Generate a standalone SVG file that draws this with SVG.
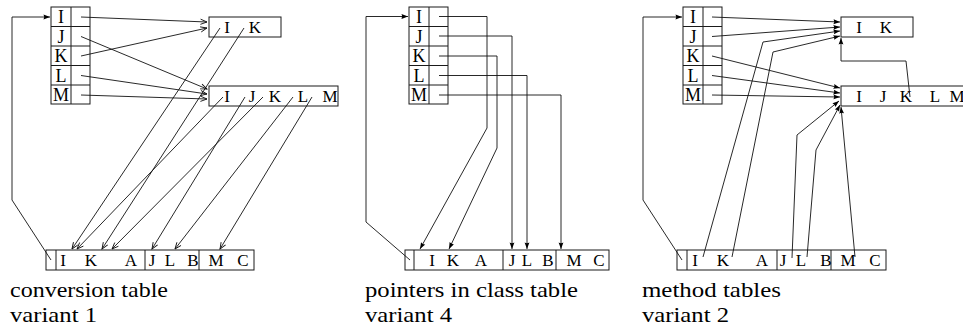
<svg xmlns="http://www.w3.org/2000/svg" width="963" height="329" viewBox="0 0 963 329">
  <style>
    .box { fill: none; stroke: #1a1a1a; stroke-width: 1; }
    .cell { stroke: #1a1a1a; stroke-width: 1; }
    .wire { fill: none; stroke: #111; stroke-width: 0.9; }
    .open { marker-end: url(#chevron); }
    .solid { marker-end: url(#dart); }
    text { font-family: "DejaVu Serif", "Liberation Serif", "Noto Serif", serif; fill: #000; }
    .sel { font-family: "Liberation Serif", "DejaVu Serif", serif; font-size: 18px; text-anchor: middle; }
    .ent { font-family: "Liberation Serif", "DejaVu Serif", serif; font-size: 17px; text-anchor: middle; }
    .cap { font-family: "Liberation Serif", "DejaVu Serif", serif; font-size: 22px; }
  </style>
  <defs>
    <!-- open chevron head (conversion table arrows) -->
    <marker id="chevron" viewBox="-8 -4 10 8" refX="0" refY="0" markerWidth="10" markerHeight="8" markerUnits="userSpaceOnUse" orient="auto">
      <path d="M-6.5,-2.6 L0,0 L-6.5,2.6" fill="none" stroke="#111" stroke-width="0.9"/>
    </marker>
    <!-- filled dart head -->
    <marker id="dart" viewBox="-8 -4 10 8" refX="0" refY="0" markerWidth="10" markerHeight="8" markerUnits="userSpaceOnUse" orient="auto">
      <path d="M-6.5,-2.4 L0,0 L-6.5,2.4 Q-5,0 -6.5,-2.4 Z" fill="#000"/>
    </marker>
    <!-- selector table: 5 rows, name column + pointer column -->
    <g id="selTable">
      <rect class="box" x="0" y="0" width="39" height="97"/>
      <line class="cell" x1="20" y1="0" x2="20" y2="97"/>
      <line class="cell" x1="0" y1="19.5" x2="39" y2="19.5"/>
      <line class="cell" x1="0" y1="39" x2="39" y2="39"/>
      <line class="cell" x1="0" y1="58.5" x2="39" y2="58.5"/>
      <line class="cell" x1="0" y1="78" x2="39" y2="78"/>
      <text class="sel" x="10" y="16" font-family="Liberation Serif, DejaVu Serif, serif">I</text>
      <text class="sel" x="10" y="35.5" font-family="Liberation Serif, DejaVu Serif, serif">J</text>
      <text class="sel" x="10" y="55" font-family="Liberation Serif, DejaVu Serif, serif">K</text>
      <text class="sel" x="10" y="74.5" font-family="Liberation Serif, DejaVu Serif, serif">L</text>
      <text class="sel" x="10" y="94" font-family="Liberation Serif, DejaVu Serif, serif">M</text>
    </g>
  </defs>

  <!-- ===== conversion table, variant 1 ===== -->
  <g id="v1-selectors"><use href="#selTable" x="51" y="7"/></g>
  <g id="v1-ik">
    <rect class="box" x="209" y="17" width="72" height="20"/>
    <text class="ent" x="227" y="33">I</text>
    <text class="ent" x="255" y="33">K</text>
  </g>
  <g id="v1-ijklm">
    <rect class="box" x="209" y="86" width="129" height="20"/>
    <text class="ent" x="227" y="102">I</text>
    <text class="ent" x="252" y="102">J</text>
    <text class="ent" x="275" y="102">K</text>
    <text class="ent" x="303" y="102">L</text>
    <text class="ent" x="330" y="102">M</text>
  </g>
  <g id="v1-methods">
    <rect class="box" x="46" y="250" width="208" height="20"/>
    <line class="cell" x1="56" y1="250" x2="56" y2="270" stroke-width="1.6"/>
    <line class="cell" x1="145" y1="250" x2="145" y2="270"/>
    <line class="cell" x1="199" y1="250" x2="199" y2="270"/>
    <text class="ent" x="63" y="266">I</text>
    <text class="ent" x="91" y="266">K</text>
    <text class="ent" x="131" y="266">A</text>
    <text class="ent" x="152" y="266">J</text>
    <text class="ent" x="170" y="266">L</text>
    <text class="ent" x="193" y="266">B</text>
    <text class="ent" x="216" y="266">M</text>
    <text class="ent" x="243" y="266">C</text>
  </g>
  <g id="v1-caption">
    <text class="cap" x="10" y="297" textLength="158" lengthAdjust="spacingAndGlyphs">conversion table</text>
    <text class="cap" x="10" y="322" textLength="87" lengthAdjust="spacingAndGlyphs">variant 1</text>
  </g>

  <!-- ===== pointers in class table, variant 4 ===== -->
  <g id="v4-selectors"><use href="#selTable" x="409" y="7"/></g>
  <g id="v4-methods">
    <rect class="box" x="405" y="250" width="204" height="20"/>
    <line class="cell" x1="414" y1="250" x2="414" y2="270"/>
    <line class="cell" x1="503" y1="250" x2="503" y2="270"/>
    <line class="cell" x1="556" y1="250" x2="556" y2="270"/>
    <text class="ent" x="432" y="266">I</text>
    <text class="ent" x="453" y="266">K</text>
    <text class="ent" x="481" y="266">A</text>
    <text class="ent" x="512" y="266">J</text>
    <text class="ent" x="527" y="266">L</text>
    <text class="ent" x="548" y="266">B</text>
    <text class="ent" x="574" y="266">M</text>
    <text class="ent" x="599" y="266">C</text>
  </g>
  <g id="v4-caption">
    <text class="cap" x="365" y="297" textLength="213" lengthAdjust="spacingAndGlyphs">pointers in class table</text>
    <text class="cap" x="365" y="322" textLength="87" lengthAdjust="spacingAndGlyphs">variant 4</text>
  </g>

  <!-- ===== method tables, variant 2 ===== -->
  <g id="v2-selectors"><use href="#selTable" x="683" y="7"/></g>
  <g id="v2-ik">
    <rect class="box" x="841" y="17" width="72" height="20"/>
    <text class="ent" x="859" y="33">I</text>
    <text class="ent" x="886" y="33">K</text>
  </g>
  <g id="v2-ijklm">
    <rect class="box" x="841" y="86" width="132" height="20"/>
    <text class="ent" x="859" y="102">I</text>
    <text class="ent" x="883" y="102">J</text>
    <text class="ent" x="906" y="102">K</text>
    <text class="ent" x="935" y="102">L</text>
    <text class="ent" x="957" y="102">M</text>
  </g>
  <g id="v2-methods">
    <rect class="box" x="677" y="250" width="209" height="20"/>
    <line class="cell" x1="687" y1="250" x2="687" y2="270"/>
    <line class="cell" x1="777" y1="250" x2="777" y2="270"/>
    <line class="cell" x1="831" y1="250" x2="831" y2="270"/>
    <text class="ent" x="695" y="266">I</text>
    <text class="ent" x="723" y="266">K</text>
    <text class="ent" x="762" y="266">A</text>
    <text class="ent" x="783" y="266">J</text>
    <text class="ent" x="801" y="266">L</text>
    <text class="ent" x="826" y="266">B</text>
    <text class="ent" x="848" y="266">M</text>
    <text class="ent" x="875" y="266">C</text>
  </g>
  <g id="v2-caption">
    <text class="cap" x="642" y="297" textLength="139" lengthAdjust="spacingAndGlyphs">method tables</text>
    <text class="cap" x="642" y="322" textLength="87" lengthAdjust="spacingAndGlyphs">variant 2</text>
  </g>

  <!-- ===== connectors ===== -->
  <g id="connectors">
    <!-- variant 1: selector rows to conversion tables -->
    <path class="wire open" d="M81,17 L207,22"/>
    <path class="wire open" d="M81,36.5 L207,89"/>
    <path class="wire open" d="M81,56 L207,28"/>
    <path class="wire open" d="M81,75.5 L207,94"/>
    <path class="wire open" d="M81,95 L207,99"/>
    <!-- variant 1: conversion entries to method table -->
    <path class="wire open" d="M220,28 L72,249"/>
    <path class="wire open" d="M244,28 L102,249"/>
    <path class="wire open" d="M223,97 L77,249"/>
    <path class="wire open" d="M245,97 L152,249"/>
    <path class="wire open" d="M263,97 L112,249"/>
    <path class="wire open" d="M293,97 L175,249"/>
    <path class="wire open" d="M312,97 L220,249"/>
    <path class="wire solid" d="M51,260 L12,200 L12,17 L50,17"/>

    <!-- variant 4: class table pointers -->
    <path class="wire solid" d="M439,16.5 H487 V128 L420,249"/>
    <path class="wire solid" d="M439,36 H512 V249"/>
    <path class="wire solid" d="M439,56 H497 V148 L449,249"/>
    <path class="wire solid" d="M439,75.5 H527 V249"/>
    <path class="wire solid" d="M439,95 H561 V249"/>
    <path class="wire solid" d="M410,260 L366,222 V16.5 H408"/>

    <!-- variant 2: selector rows to method tables -->
    <path class="wire solid" d="M712,17 L840,22"/>
    <path class="wire solid" d="M712,36.5 L840,27"/>
    <path class="wire solid" d="M712,56 L840,88"/>
    <path class="wire solid" d="M712,75.5 L840,93"/>
    <path class="wire solid" d="M712,95 L840,97"/>
    <!-- variant 2: method entries back to the tables -->
    <path class="wire solid" d="M703,257 L763,42 L840,31"/>
    <path class="wire solid" d="M732,257 L773,52 L840,36"/>
    <path class="wire solid" d="M792,258 L797,135 L839,101"/>
    <path class="wire solid" d="M807,257 L816,150 L840,105"/>
    <path class="wire solid" d="M855,257 L841,107"/>
    <path class="wire solid" d="M910,97 L906,61 H841 V38"/>
    <path class="wire solid" d="M682,260 L643,200 V17 H682"/>
  </g>
</svg>
